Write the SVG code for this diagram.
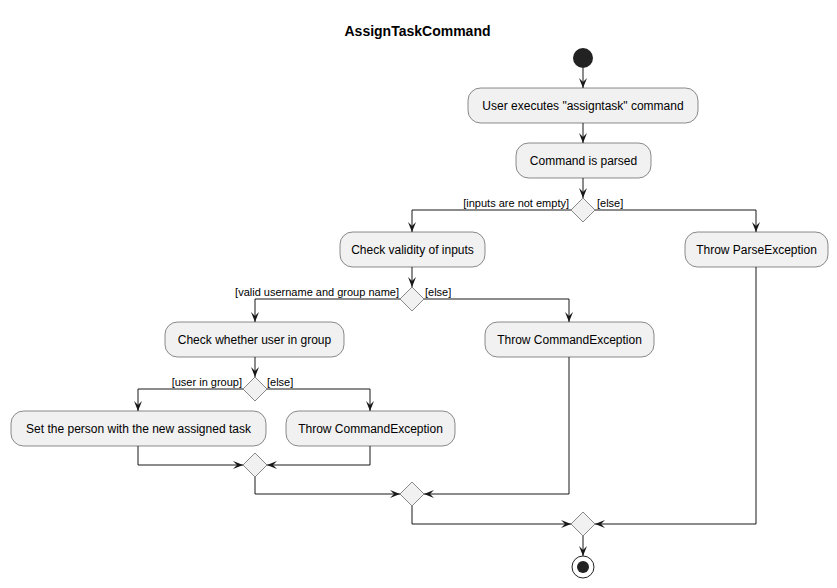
<svg xmlns="http://www.w3.org/2000/svg" width="837" height="588" viewBox="0 0 837 588">
<defs>
<style>
.act{fill:#F1F1F1;stroke:#181818;stroke-width:0.5}
.dia{fill:#F1F1F1;stroke:#181818;stroke-width:0.5}
.t{font-family:"Liberation Sans",Arial,sans-serif;font-size:12px;fill:#000;text-anchor:middle}
.l{font-family:"Liberation Sans",Arial,sans-serif;font-size:11px;fill:#000}
.c{fill:none;stroke:#181818;stroke-width:1;marker-end:url(#ah)}
</style>
<marker id="ah" markerUnits="userSpaceOnUse" markerWidth="10" markerHeight="8" refX="10" refY="4" orient="auto" viewBox="0 0 10 8">
<path d="M0,0 L10,4 L0,8 L4,4 Z" fill="#181818"/>
</marker>
</defs>
<rect width="837" height="588" fill="#FFFFFF"/>
<text x="417.5" y="36" style="font-family:'Liberation Sans',Arial,sans-serif;font-size:14px;font-weight:bold;text-anchor:middle">AssignTaskCommand</text>

<g id="connectors">
<path class="c" d="M583,68 L583,88"/>
<path class="c" d="M583,123 L583,143"/>
<path class="c" d="M583,178 L583,198"/>
<path class="c" d="M571,210 L412,210 L412,232"/>
<path class="c" d="M595,210 L756,210 L756,232"/>
<path class="c" d="M412,267 L412,287"/>
<path class="c" d="M400,299 L255,299 L255,322"/>
<path class="c" d="M424,299 L569,299 L569,322"/>
<path class="c" d="M255,357 L255,377"/>
<path class="c" d="M243,389 L138,389 L138,411"/>
<path class="c" d="M267,389 L370,389 L370,411"/>
<path class="c" d="M138,446 L138,465 L243,465"/>
<path class="c" d="M370,446 L370,465 L267,465"/>
<path class="c" d="M255,477 L255,494 L400,494"/>
<path class="c" d="M569,357 L569,494 L424,494"/>
<path class="c" d="M412,506 L412,524 L571,524"/>
<path class="c" d="M756,267 L756,524 L595,524"/>
<path class="c" d="M583,536 L583,556"/>
<text class="l" x="569" y="207" text-anchor="end">[inputs are not empty]</text>
<text class="l" x="597" y="207">[else]</text>
<text class="l" x="399" y="296" text-anchor="end">[valid username and group name]</text>
<text class="l" x="425" y="296">[else]</text>
<text class="l" x="242" y="386" text-anchor="end">[user in group]</text>
<text class="l" x="267" y="386">[else]</text>
</g>

<g id="start"><circle cx="583" cy="58" r="10" fill="#222222"/></g>
<g id="userExecutes"><rect class="act" x="468" y="88" width="230" height="35" rx="12.5"/><text class="t" x="583" y="110">User executes "assigntask" command</text></g>
<g id="commandParsed"><rect class="act" x="516" y="143" width="135" height="35" rx="12.5"/><text class="t" x="583.5" y="165">Command is parsed</text></g>
<g id="decision1"><polygon class="dia" points="583,198 595,210 583,222 571,210"/></g>
<g id="checkValidity"><rect class="act" x="340" y="232" width="145" height="35" rx="12.5"/><text class="t" x="412.5" y="254">Check validity of inputs</text></g>
<g id="throwParse"><rect class="act" x="685" y="232" width="143" height="35" rx="12.5"/><text class="t" x="756.5" y="254">Throw ParseException</text></g>
<g id="decision2"><polygon class="dia" points="412,287 424,299 412,311 400,299"/></g>
<g id="checkUserInGroup"><rect class="act" x="165" y="322" width="179" height="35" rx="12.5"/><text class="t" x="254.5" y="344">Check whether user in group</text></g>
<g id="throwCommand1"><rect class="act" x="485" y="322" width="169" height="35" rx="12.5"/><text class="t" x="569.5" y="344">Throw CommandException</text></g>
<g id="decision3"><polygon class="dia" points="255,377 267,389 255,401 243,389"/></g>
<g id="setPerson"><rect class="act" x="11" y="411" width="255" height="35" rx="12.5"/><text class="t" x="138.5" y="433">Set the person with the new assigned task</text></g>
<g id="throwCommand2"><rect class="act" x="286" y="411" width="169" height="35" rx="12.5"/><text class="t" x="370.5" y="433">Throw CommandException</text></g>
<g id="merge1"><polygon class="dia" points="255,453 267,465 255,477 243,465"/></g>
<g id="merge2"><polygon class="dia" points="412,482 424,494 412,506 400,494"/></g>
<g id="merge3"><polygon class="dia" points="583,512 595,524 583,536 571,524"/></g>
<g id="end"><circle cx="583" cy="567" r="11" fill="none" stroke="#222222" stroke-width="1"/><circle cx="583" cy="567" r="6" fill="#222222"/></g>
</svg>
